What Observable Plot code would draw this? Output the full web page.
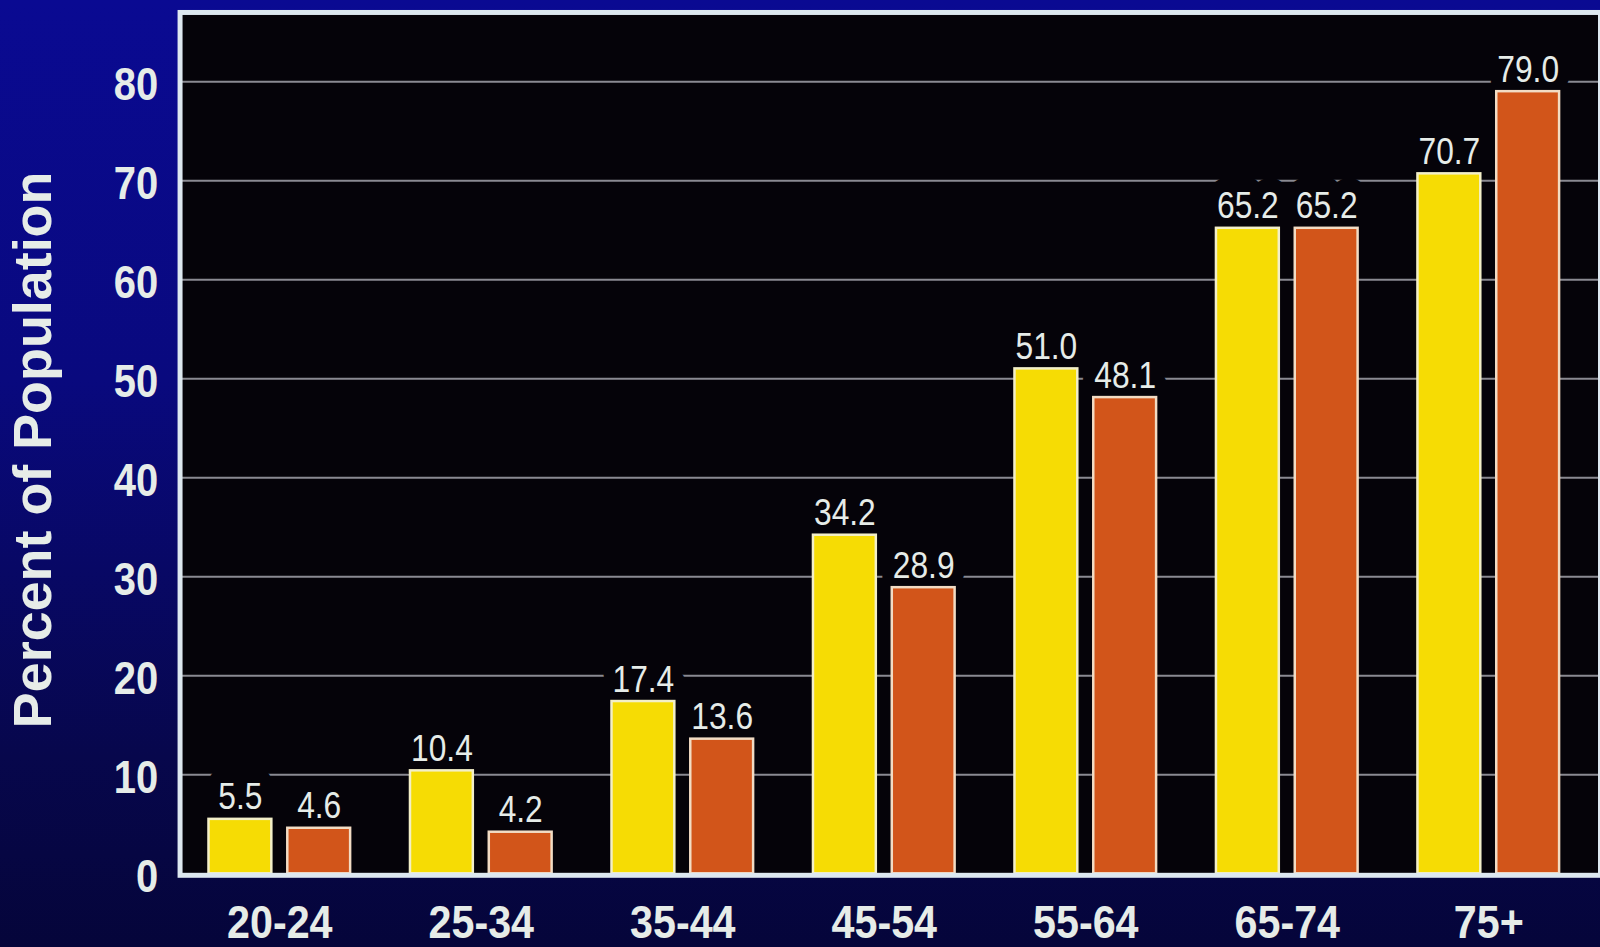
<!DOCTYPE html>
<html>
<head>
<meta charset="utf-8">
<script src="https://cdn.jsdelivr.net/npm/d3@7"></script>
<script src="https://cdn.jsdelivr.net/npm/@observablehq/plot@0.6"></script>
<style>
  html, body { margin: 0; padding: 0; width: 1600px; height: 947px; overflow: hidden; }
  body { background: linear-gradient(180deg, #0a0a92 0%, #09097e 40%, #07074c 80%, #05053a 100%); }
  #chart svg { display: block; background: transparent; }
</style>
</head>
<body>
<div id="chart"></div>
<script>
const ages = ["20-24", "25-34", "35-44", "45-54", "55-64", "65-74", "75+"];
const yellowValues = [5.5, 10.4, 17.4, 34.2, 51.0, 65.2, 70.7];
const orangeValues = [4.6, 4.2, 13.6, 28.9, 48.1, 65.2, 79.0];
const yTicks = [0, 10, 20, 30, 40, 50, 60, 70, 80];
const yTitle = "Percent of Population";

const yellowData = ages.map((age, i) => ({age, value: yellowValues[i]}));
const orangeData = ages.map((age, i) => ({age, value: orangeValues[i]}));

const font = '"Liberation Sans", Arial, Helvetica, sans-serif';
const textColor = "#e6ece8";
const plotBg = "#050309";

const labelOpts = (dx) => ({x: "age", y: "value", text: d => d.value.toFixed(1), dx, dy: -10, lineAnchor: "bottom",
  fontSize: 37, fontFamily: font, className: "vlabel"});

const chart = Plot.plot({
  width: 1604,
  height: 947,
  marginLeft: 180,
  marginRight: 0,
  marginTop: 12,
  marginBottom: 70,
  style: {background: "transparent", overflow: "visible", fontFamily: font},
  x: {domain: ages, range: [179, 1593], padding: 0},
  y: {domain: [0, 87], range: [875.5, 12]},
  marks: [
    Plot.frame({fill: plotBg, stroke: null}),
    Plot.gridY(yTicks.filter(t => t > 0), {stroke: "#8a8a92", strokeOpacity: 1, strokeWidth: 2}),
    // dark knock-out behind the value labels (interrupts the grid lines)
    Plot.text(yellowData, {...labelOpts(-39.5), fill: plotBg, stroke: plotBg, strokeWidth: 28}),
    Plot.text(orangeData, {...labelOpts(39.5), fill: plotBg, stroke: plotBg, strokeWidth: 28}),
    Plot.barY(yellowData, {x: "age", y: "value", fill: "#f6dc04", stroke: "#f3efc8", strokeWidth: 2.5, insetLeft: 30, insetRight: 109}),
    Plot.barY(orangeData, {x: "age", y: "value", fill: "#d2551a", stroke: "#f2dcc4", strokeWidth: 2.5, insetLeft: 109, insetRight: 30}),
    Plot.text(yellowData, {...labelOpts(-39.5), fill: textColor}),
    Plot.text(orangeData, {...labelOpts(39.5), fill: textColor}),
    Plot.frame({stroke: "#dde8f0", strokeWidth: 5, fill: null}),
    Plot.axisY({ticks: yTicks, tickSize: 0, tickPadding: 22, dy: 4, fontSize: 46, fontWeight: "bold", fontFamily: font, fill: textColor, label: null}),
    Plot.axisX({tickSize: 0, tickPadding: 29, fontSize: 47, fontWeight: "bold", fontFamily: font, fill: textColor, label: null}),
    Plot.text([yTitle], {frameAnchor: "left", textAnchor: "middle", rotate: -90, dx: -147, dy: 6, fontSize: 54, fontWeight: "bold", fontFamily: font, fill: textColor})
  ]
});

// narrow the condensed-looking texts horizontally (no narrow font installed)
function condense(nodes, k) {
  nodes.each(function() {
    const x = this.getAttribute("x");
    let t = this.getAttribute("transform") || "";
    if (x !== null) {
      t += ` translate(${+x || 0},0)`;
      this.removeAttribute("x");
    }
    this.setAttribute("transform", `${t} scale(${k},1)`);
  });
}
const svg = d3.select(chart);
condense(svg.selectAll(".vlabel text"), 0.86);
condense(svg.selectAll('g[aria-label="y-axis tick label"] text'), 0.87);
condense(svg.selectAll('g[aria-label="x-axis tick label"] text'), 0.88);

document.getElementById("chart").appendChild(chart);
</script>
</body>
</html>
